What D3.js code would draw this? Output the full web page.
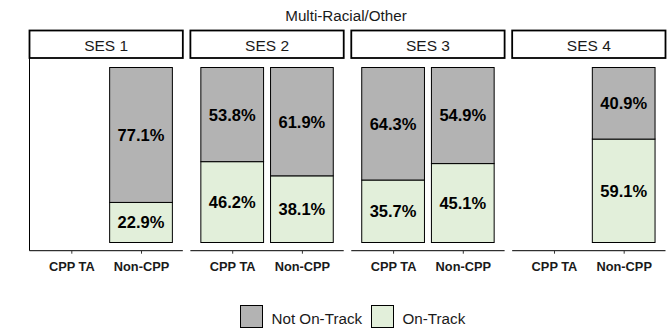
<!DOCTYPE html>
<html><head><meta charset="utf-8">
<script src="https://cdn.jsdelivr.net/npm/d3@7"></script>
<style>body{margin:0;background:#fff}svg{display:block}text{font-family:"Liberation Sans",Arial,sans-serif}</style>
</head><body>
<script>
const title = "Multi-Racial/Other";
const panels = ["SES 1","SES 2","SES 3","SES 4"];
const categories = ["CPP TA","Non-CPP"];
const onTrack    = [[null,22.9],[46.2,38.1],[35.7,45.1],[null,59.1]];
const notOnTrack = [[null,77.1],[53.8,61.9],[64.3,54.9],[null,40.9]];
const seriesNames = ["Not On-Track","On-Track"];
const colors = {"Not On-Track":"#B3B3B3","On-Track":"#E2EFDA"};

const W=672,H=335;
const svg=d3.select("body").append("svg").attr("width",W).attr("height",H);

svg.append("text").attr("x",346).attr("y",20.5).attr("text-anchor","middle")
  .attr("font-size",15.2).attr("fill","#1a1a1a").text(title);

const panelX=d3.scaleBand().domain(panels).range([29.5,665.5]).paddingInner(0.047);
const pw=panelX.bandwidth();
const stripTop=30.5, stripBot=58, axisY=250.7;
const y=d3.scaleLinear().domain([0,100]).range([242.5,67.5]);

panels.forEach((p,i)=>{
  const g=svg.append("g").attr("transform",`translate(${panelX(p)},0)`);
  const unit=pw/2.2;
  const xc=d3.scalePoint().domain(categories).range([0.6*unit,1.6*unit]);
  const bw=0.9*unit;
  categories.forEach((c,j)=>{
    const ot=onTrack[i][j], nt=notOnTrack[i][j];
    if(ot==null) return;
    const cx=xc(c), x0=cx-bw/2;
    g.append("rect").attr("x",x0).attr("width",bw).attr("y",y(ot)).attr("height",y(0)-y(ot))
      .attr("fill",colors["On-Track"]).attr("stroke","#000").attr("stroke-width",1);
    g.append("rect").attr("x",x0).attr("width",bw).attr("y",y(ot+nt)).attr("height",y(ot)-y(ot+nt))
      .attr("fill",colors["Not On-Track"]).attr("stroke","#000").attr("stroke-width",1);
    g.append("text").attr("x",cx).attr("y",(y(0)+y(ot))/2).attr("dy","0.36em").attr("text-anchor","middle")
      .attr("font-size",16.5).attr("font-weight","bold").attr("fill","#000").text(ot.toFixed(1)+"%");
    g.append("text").attr("x",cx).attr("y",(y(ot)+y(ot+nt))/2).attr("dy","0.36em").attr("text-anchor","middle")
      .attr("font-size",16.5).attr("font-weight","bold").attr("fill","#000").text(nt.toFixed(1)+"%");
  });
  const ax=d3.axisBottom(xc).tickSize(3).tickSizeOuter(0).tickPadding(8);
  const axg=g.append("g").attr("transform",`translate(0,${axisY})`).call(ax);
  axg.select(".domain").attr("d",`M0,0H${pw}`).attr("stroke","#000").attr("stroke-width",1);
  axg.selectAll(".tick line").attr("stroke","#333");
  axg.selectAll(".tick text").attr("font-size",12.8).attr("font-weight","bold").attr("fill","#1a1a1a")
    .attr("font-family","Liberation Sans, Arial, sans-serif");
  if(i===0){
    g.append("line").attr("x1",0).attr("x2",0).attr("y1",stripBot).attr("y2",axisY).attr("stroke","#000").attr("stroke-width",1);
  }
  g.append("rect").attr("x",0).attr("y",stripTop).attr("width",pw).attr("height",stripBot-stripTop)
    .attr("fill","#fff").attr("stroke","#000").attr("stroke-width",1.8);
  g.append("text").attr("x",pw/2).attr("y",45.3).attr("dy","0.36em").attr("text-anchor","middle")
    .attr("font-size",15.5).attr("fill","#1a1a1a").text(p);
});

const leg=[{n:"Not On-Track",x:240.5},{n:"On-Track",x:371.5}];
leg.forEach(l=>{
  svg.append("rect").attr("x",l.x).attr("y",305.5).attr("width",22).attr("height",22)
    .attr("fill",colors[l.n]).attr("stroke","#000").attr("stroke-width",1);
  svg.append("text").attr("x",l.x+31).attr("y",318.5).attr("dy","0.36em").attr("font-size",15.2).attr("fill","#1a1a1a").text(l.n);
});
</script>
</body></html>
